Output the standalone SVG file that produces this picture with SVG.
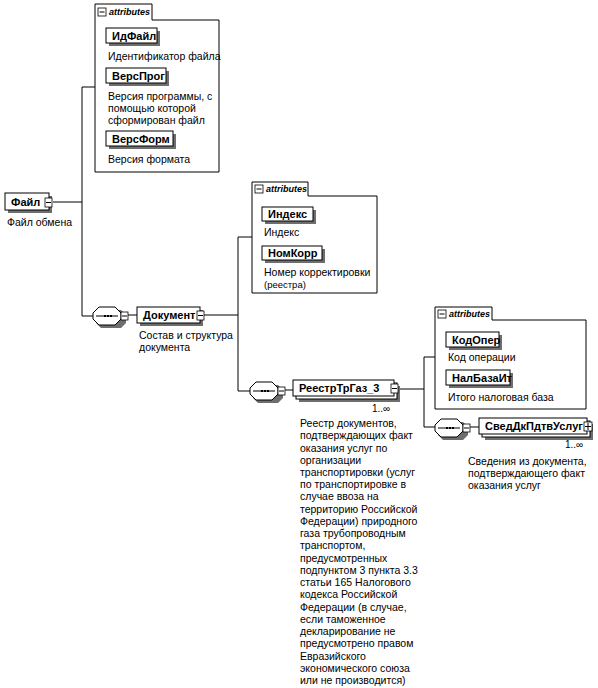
<svg xmlns="http://www.w3.org/2000/svg" width="598" height="688" viewBox="0 0 598 688">
<style>
text{font-family:"Liberation Sans",Arial,sans-serif;fill:#000}
.lbl{font-size:11px;font-weight:bold}
.desc{font-size:10.5px}
.small{font-size:9.5px}
.mult{font-size:10px}
.tab{font-size:9px;font-weight:bold;font-style:italic}
.box{fill:#fff;stroke:#000;stroke-width:1}
.sh{fill:#6e6e6e}
.ln{fill:none;stroke:#000;stroke-width:1}
.ic{fill:#fff;stroke:#000;stroke-width:0.8}
</style>
<rect width="598" height="688" fill="#fff"/>
<g id="connectors">
<path class="ln" d="M53,202H82M82,87V316M82,87H95M82,316H93M128,315H137M204,315H238M238,237V391M238,237H252M238,391H250M284,390H293M398,389H424M424,357V427M424,357H435M424,427H435M470,427H479"/>
</g>
<g id="attrs1">
<path class="box" d="M95,20V4H152V20H219V172H95Z"/>
<rect class="ic" x="98" y="8" width="8" height="8"/><path class="ln" d="M99.5,12H104.5"/>
<text class="tab" x="109" y="15">attributes</text>
</g>
<g id="IdFile">
<rect class="sh" x="109" y="31" width="51" height="15"/><rect class="box" x="106" y="28" width="51" height="15"/>
<text class="lbl" x="112" y="39.5">ИдФайл</text>
<text class="desc" x="108" y="60">Идентификатор файла</text>
</g>
<g id="VersProg">
<rect class="sh" x="109" y="71" width="60" height="15"/><rect class="box" x="106" y="68" width="60" height="15"/>
<text class="lbl" x="112" y="79.5">ВерсПрог</text>
<text class="desc" x="108" y="100">Версия программы, с</text>
<text class="desc" x="108" y="112">помощью которой</text>
<text class="desc" x="108" y="124">сформирован файл</text>
</g>
<g id="VersForm">
<rect class="sh" x="109" y="134" width="67" height="15"/><rect class="box" x="106" y="131" width="67" height="15"/>
<text class="lbl" x="112" y="142.5">ВерсФорм</text>
<text class="desc" x="108" y="163">Версия формата</text>
</g>
<g id="File">
<rect class="sh" x="8" y="196" width="44" height="17"/><rect class="box" x="5" y="193" width="44" height="17"/>
<text class="lbl" x="11" y="205.5">Файл</text>
<rect class="ic" x="45" y="198" width="7" height="9"/><path class="ln" d="M46,202.5H51"/>
<text class="desc" x="7" y="226">Файл обмена</text>
</g>
<g id="seq1">
<path class="sh" d="M101,310H121L126,315V323L121,328H101L96,323V315Z"/>
<path class="box" d="M99,307H115L121,313V319L115,325H99L93,319V313Z"/>
<path class="ln" d="M96,316H118"/><path d="M104,316h2M107,316h2M110,316h2" stroke="#000" stroke-width="2"/>
<rect class="ic" x="121" y="312" width="7" height="8"/><path class="ln" d="M122,316H127"/>
</g>
<g id="Document">
<rect class="sh" x="140" y="310" width="63" height="16"/><rect class="box" x="137" y="307" width="63" height="16"/>
<text class="lbl" x="143" y="319">Документ</text>
<rect class="ic" x="197" y="311" width="7" height="9"/><path class="ln" d="M198,315.5H203"/>
<text class="desc" x="139" y="339">Состав и структура</text>
<text class="desc" x="139" y="351">документа</text>
</g>
<g id="attrs2">
<path class="box" d="M252,196V182H308V196H377V293H252Z"/>
<rect class="ic" x="255" y="185" width="8" height="8"/><path class="ln" d="M256.5,189H261.5"/>
<text class="tab" x="266" y="192">attributes</text>
</g>
<g id="Index">
<rect class="sh" x="265" y="210" width="51" height="14"/><rect class="box" x="262" y="207" width="51" height="14"/>
<text class="lbl" x="268" y="218">Индекс</text>
<text class="desc" x="264" y="236">Индекс</text>
</g>
<g id="NomKorr">
<rect class="sh" x="265" y="249" width="60" height="14"/><rect class="box" x="262" y="246" width="60" height="14"/>
<text class="lbl" x="268" y="257">НомКорр</text>
<text class="desc" x="264" y="276">Номер корректировки</text>
<text class="small" x="264" y="288">(реестра)</text>
</g>
<g id="seq2">
<path class="sh" d="M258,385H278L283,390V398L278,403H258L253,398V390Z"/>
<path class="box" d="M256,382H272L278,388V394L272,400H256L250,394V388Z"/>
<path class="ln" d="M253,391H275"/><path d="M261,391h2M264,391h2M267,391h2" stroke="#000" stroke-width="2"/>
<rect class="ic" x="278" y="387" width="7" height="8"/><path class="ln" d="M279,391H284"/>
</g>
<g id="Reestr">
<rect class="sh" x="299" y="386" width="101" height="16"/>
<rect class="box" x="296" y="383" width="101" height="16"/>
<rect class="box" x="293" y="380" width="101" height="16"/>
<text class="lbl" x="299" y="392">РеестрТрГаз_3</text>
<rect class="ic" x="391" y="384" width="7" height="9"/><path class="ln" d="M392,388.5H397"/>
<text class="mult" x="372" y="412">1..∞</text>
<text class="desc" x="300" y="427">Реестр документов,</text>
<text class="desc" x="300" y="439.2">подтверждающих факт</text>
<text class="desc" x="300" y="451.5">оказания услуг по</text>
<text class="desc" x="300" y="463.7">организации</text>
<text class="desc" x="300" y="476">транспортировки (услуг</text>
<text class="desc" x="300" y="488.2">по транспортировке в</text>
<text class="desc" x="300" y="500.4">случае ввоза на</text>
<text class="desc" x="300" y="512.7">территорию Российской</text>
<text class="desc" x="300" y="524.9">Федерации) природного</text>
<text class="desc" x="300" y="537.2">газа трубопроводным</text>
<text class="desc" x="300" y="549.4">транспортом,</text>
<text class="desc" x="300" y="561.6">предусмотренных</text>
<text class="desc" x="300" y="573.9">подпунктом 3 пункта 3.3</text>
<text class="desc" x="300" y="586.1">статьи 165 Налогового</text>
<text class="desc" x="300" y="598.4">кодекса Российской</text>
<text class="desc" x="300" y="610.6">Федерации (в случае,</text>
<text class="desc" x="300" y="622.8">если таможенное</text>
<text class="desc" x="300" y="635.1">декларирование не</text>
<text class="desc" x="300" y="647.3">предусмотрено правом</text>
<text class="desc" x="300" y="659.6">Евразийского</text>
<text class="desc" x="300" y="671.8">экономического союза</text>
<text class="desc" x="300" y="684">или не производится)</text>
</g>
<g id="attrs3">
<path class="box" d="M435,320V307H492V320H586V409H435Z"/>
<rect class="ic" x="438" y="310" width="8" height="8"/><path class="ln" d="M439.5,314H444.5"/>
<text class="tab" x="449" y="317">attributes</text>
</g>
<g id="KodOper">
<rect class="sh" x="449" y="335" width="53" height="15"/><rect class="box" x="446" y="332" width="53" height="15"/>
<text class="lbl" x="452" y="343.5">КодОпер</text>
<text class="desc" x="448" y="361">Код операции</text>
</g>
<g id="NalBaza">
<rect class="sh" x="449" y="373" width="64" height="15"/><rect class="box" x="446" y="370" width="64" height="15"/>
<text class="lbl" x="452" y="381.5">НалБазаИт</text>
<text class="desc" x="448" y="401">Итого налоговая база</text>
</g>
<g id="seq3">
<path class="sh" d="M443,422H463L468,427V435L463,440H443L438,435V427Z"/>
<path class="box" d="M441,419H457L463,425V431L457,437H441L435,431V425Z"/>
<path class="ln" d="M438,428H460"/><path d="M446,428h2M449,428h2M452,428h2" stroke="#000" stroke-width="2"/>
<rect class="ic" x="463" y="424" width="7" height="8"/><path class="ln" d="M464,428H469"/>
</g>
<g id="SvedDk">
<rect class="sh" x="485" y="424" width="108" height="16"/>
<rect class="box" x="482" y="421" width="108" height="16"/>
<rect class="box" x="479" y="418" width="108" height="16"/>
<text class="lbl" x="485" y="430">СведДкПдтвУслуг</text>
<rect class="ic" x="584" y="422" width="8" height="9"/><path class="ln" d="M585,426.5H591M588,423V430"/>
<text class="mult" x="565" y="448">1..∞</text>
<text class="desc" x="468" y="465">Сведения из документа,</text>
<text class="desc" x="468" y="477">подтверждающего факт</text>
<text class="desc" x="468" y="489">оказания услуг</text>
</g>
</svg>
